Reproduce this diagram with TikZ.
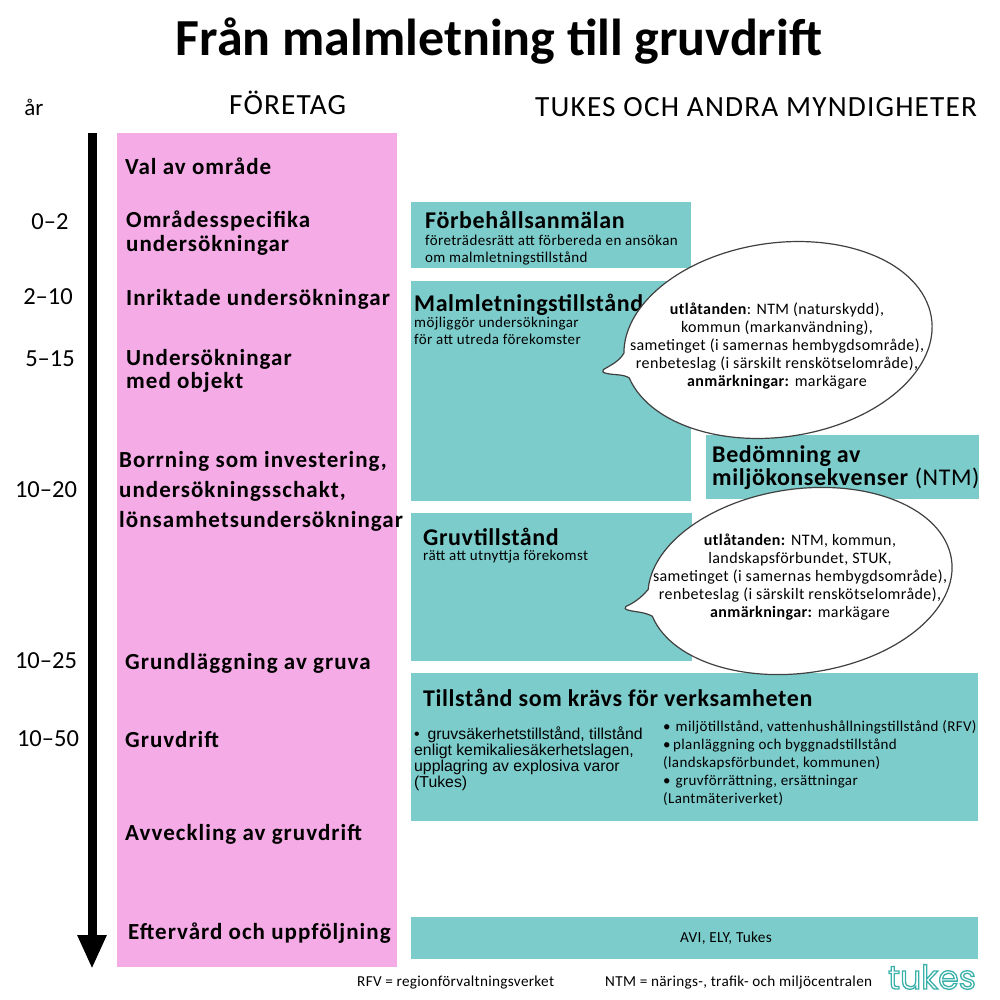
\documentclass[tikz,border=0pt]{standalone}
\usepackage{fontspec}
\setmainfont{Carlito}
\newfontfamily\arialfont{Liberation Sans}
\newfontfamily\logofont{Poppins}
\usepackage{tikz}
\usetikzlibrary{arrows.meta}
\definecolor{pinkish}{RGB}{245,171,230}
\definecolor{tealish}{RGB}{124,204,203}
\definecolor{logoteal}{RGB}{58,176,170}
\newcommand{\outlined}[1]{\special{pdf:code 1 Tr 1.3 w}#1\special{pdf:code 0 Tr}}
\tikzstyle{pinkbox} = [rectangle, anchor=north west, fill=pinkish, inner sep=0pt]
\tikzstyle{tealbox} = [rectangle, anchor=north west, fill=tealish, inner sep=0pt]
\tikzstyle{phase} = [anchor=west, align=left, inner sep=0pt, font=\fontsize{23}{24}\selectfont\bfseries\addfontfeature{LetterSpace=4.5}]
\tikzstyle{years} = [anchor=center, inner sep=0pt, font=\fontsize{24.5}{26}\selectfont]
\tikzstyle{header} = [anchor=west, inner sep=0pt, font=\fontsize{29.3}{32}\selectfont\addfontfeature{LetterSpace=4}]
\tikzstyle{permit} = [anchor=west, align=left, inner sep=0pt, font=\fontsize{24}{25}\selectfont\bfseries\addfontfeature{LetterSpace=2.5}]
\tikzstyle{small} = [anchor=north west, align=left, inner sep=0pt, font=\fontsize{15}{18}\selectfont\addfontfeature{LetterSpace=2.5}]
\tikzstyle{bubble} = [draw=black!75, fill=white, line width=1.2pt]
\tikzstyle{bubbletext} = [anchor=center, align=center, inner sep=0pt, font=\fontsize{16}{18.2}\selectfont\addfontfeature{LetterSpace=2.5}]
\tikzstyle{foot} = [anchor=west, inner sep=0pt, font=\fontsize{15.2}{17}\selectfont\addfontfeature{LetterSpace=2}]
\tikzstyle{timeline} = [line width=9pt, -{Triangle[length=34pt,width=27pt]}]
\begin{document}
\begin{tikzpicture}[x=1pt,y=-1pt]
\useasboundingbox (0,0) rectangle (1000,1000);
\node (title) [anchor=center, inner sep=0pt, font=\fontsize{52}{56}\selectfont\bfseries] at (499,41) {Från malmletning till gruvdrift};
\node (ar) [anchor=center, inner sep=0pt, font=\fontsize{23}{25}\selectfont] at (34,107) {år};
\node (foretag) [header] at (229,103) {FÖRETAG};
\node (tukes) [header] at (535,107) {TUKES OCH ANDRA MYNDIGHETER};
% left column
\node (company) [pinkbox, minimum width=280pt, minimum height=834pt] at (117,133) {};
\coordinate (timetop) at (92,133);
\coordinate (timeend) at (92,969);
\draw[timeline] (timetop) -- (timeend);
\node (y1) [years] at (50,222) {0--2};
\node (y2) [years] at (48,297) {2--10};
\node (y3) [years] at (50,359) {5--15};
\node (y4) [years] at (46,490) {10--20};
\node (y5) [years] at (46,661) {10--25};
\node (y6) [years] at (48,739) {10--50};
\node (val) [phase] at (125,166) {Val av område};
\node (omr) [phase] at (126,233.5) {Områdesspecifika\\undersökningar};
\node (inr) [phase] at (126,299) {Inriktade undersökningar};
\node (und) [phase, font=\fontsize{23}{23}\selectfont\bfseries\addfontfeature{LetterSpace=4.5}] at (126,371) {Undersökningar\\med objekt};
\node (bor) [phase, font=\fontsize{23}{30}\selectfont\bfseries\addfontfeature{LetterSpace=4.5}] at (119,491) {Borrning som investering,\\undersökningsschakt,\\lönsamhetsundersökningar};
\node (gru) [phase] at (125,663) {Grundläggning av gruva};
\node (dri) [phase] at (125,740) {Gruvdrift};
\node (avv) [phase] at (125,834) {Avveckling av gruvdrift};
\node (eft) [phase] at (128,933) {Eftervård och uppföljning};
% permits
\node (forbox) [tealbox, minimum width=280pt, minimum height=66pt] at (411,202) {};
\node (malbox) [tealbox, minimum width=280pt, minimum height=220pt] at (411,281) {};
\node (bedbox) [tealbox, minimum width=273pt, minimum height=64pt] at (706,435) {};
\node (grubox) [tealbox, minimum width=281pt, minimum height=148pt] at (411,513) {};
\node (tilbox) [tealbox, minimum width=567pt, minimum height=148pt] at (411,673) {};
\node (avibox) [tealbox, minimum width=567pt, minimum height=42pt] at (411,917) {};
\node (fortitle) [permit] at (425,220) {Förbehållsanmälan};
\node (fortext) [small, font=\fontsize{15}{17}\selectfont\addfontfeature{LetterSpace=2.5}] at (425,234.5) {företrädesrätt att förbereda en ansökan\\om malmletningstillstånd};
\node (maltitle) [permit] at (414,305) {Malmletningstillstånd};
\node (maltext) [small, font=\fontsize{15}{16.5}\selectfont\addfontfeature{LetterSpace=2.5}] at (414,317) {möjliggör undersökningar\\för att utreda förekomster};
\node (gruttitle) [permit] at (423,537) {Gruvtillstånd};
\node (grutext) [small] at (423,550) {rätt att utnyttja förekomst};
\node (bedtitle) [permit, font=\fontsize{24}{23.5}\selectfont\addfontfeature{LetterSpace=2.5}] at (712,467.5) {\textbf{Bedömning av}\\\textbf{miljökonsekvenser} (NTM)};
\node (tiltitle) [permit] at (423,698) {Tillstånd som krävs för verksamheten};
\node (tilleft) [anchor=north west, align=left, inner sep=0pt, font=\fontsize{15.8}{16}\selectfont\arialfont] at (414,726.5) {•\,\,\,gruvsäkerhetstillstånd, tillstånd\\enligt kemikaliesäkerhetslagen,\\upplagring av explosiva varor\\(Tukes)};
\node (tilright) [small] at (663,720) {•\,\,miljötillstånd, vattenhushållningstillstånd (RFV)\\•\,planläggning och byggnadstillstånd\\(landskapsförbundet, kommunen)\\•\,\,gruvförrättning, ersättningar\\(Lantmäteriverket)};
\node (avitext) [anchor=center, inner sep=0pt, font=\fontsize{15.3}{17}\selectfont\addfontfeature{LetterSpace=2}] at (726,938) {AVI, ELY, Tukes};
% bubbles
\begin{scope}[shift={(778,340)},rotate=8,x=1pt,y=1pt]
\draw[bubble] (190:155 and 97) arc[start angle=190,end angle=535,x radius=155,y radius=97]
  .. controls (-160,1) and (-170,-2) .. (-177,-5) .. controls (-179,-6) and (-178,-8) .. (-175,-9)
  .. controls (-168,-12) and (-158,-12) .. (190:155 and 97) -- cycle;
\end{scope}
\begin{scope}[shift={(800,581)},rotate=8,x=1pt,y=1pt]
\draw[bubble] (189:153 and 92) arc[start angle=189,end angle=532,x radius=153,y radius=92]
  .. controls (-160,5) and (-169,1) .. (-176,-1) .. controls (-178,-2) and (-177,-4) .. (-174,-5)
  .. controls (-167,-8) and (-158,-9) .. (189:153 and 92) -- cycle;
\end{scope}
\node (but1) [bubbletext] at (777,346) {\textbf{utlåtanden}: NTM (naturskydd),\\kommun (markanvändning),\\sametinget (i samernas hembygdsområde),\\renbeteslag (i särskilt renskötselområde),\\\textbf{anmärkningar:} markägare};
\node (but2) [bubbletext] at (800,577) {\textbf{utlåtanden:} NTM, kommun,\\landskapsförbundet, STUK,\\sametinget (i samernas hembygdsområde),\\renbeteslag (i särskilt renskötselområde),\\\textbf{anmärkningar:} markägare};
% footer
\node (rfv) [foot] at (357,983) {RFV = regionförvaltningsverket};
\node (ntm) [foot] at (605,983) {NTM = närings-, trafik- och miljöcentralen};
\node (logo) [anchor=center, inner sep=0pt, text=logoteal, font=\fontsize{33}{34}\selectfont\logofont] at (932,977) {\outlined{tukes}};
\end{tikzpicture}
\end{document}
